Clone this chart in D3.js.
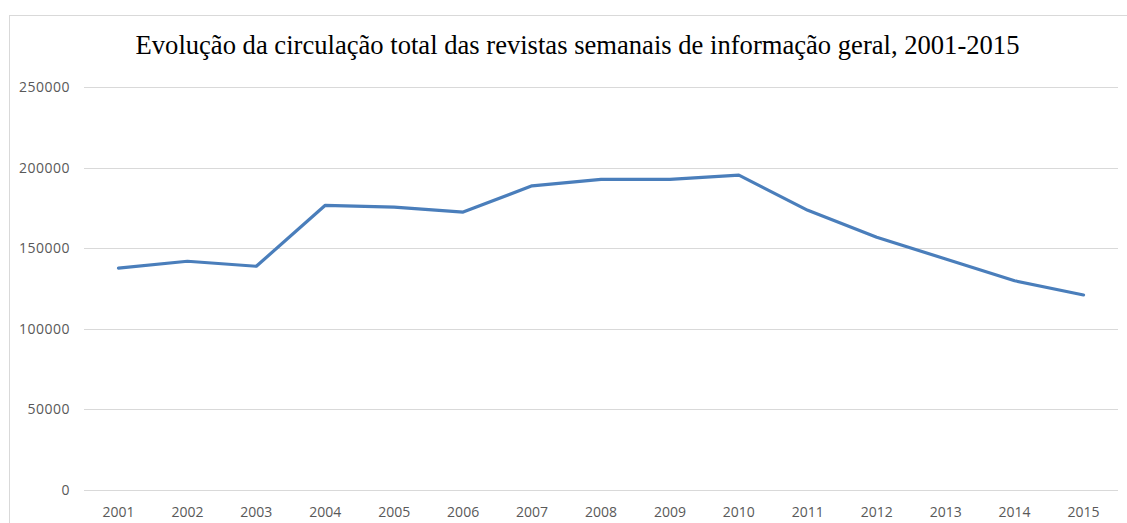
<!DOCTYPE html>
<html>
<head>
<meta charset="utf-8">
<script src="https://cdn.jsdelivr.net/npm/d3@7"></script>
<style>
  body { margin: 0; background: #fff; }
</style>
</head>
<body>
<div id="chart"></div>
<script>
"use strict"

// data
var years = ["2001","2002","2003","2004","2005","2006","2007","2008","2009","2010","2011","2012","2013","2014","2015"];
var circulation = [137600, 141900, 138800, 176600, 175500, 172400, 188700, 192700, 192700, 195300, 173500, 156800, 143300, 129800, 121000];
var yTicks = [0, 50000, 100000, 150000, 200000, 250000];
var chartTitle = "Evolução da circulação total das revistas semanais de informação geral, 2001-2015";

var width = 1127,
    height = 523,
    margin = {top: 87, right: 9, bottom: 33, left: 84};

var svg = d3.select("#chart").append("svg")
    .attr("width", width)
    .attr("height", height);

// outer frame
svg.append("rect")
  .attr("x", 9.5)
  .attr("y", 15.5)
  .attr("width", width + 20)
  .attr("height", height + 20)
  .style("fill", "none")
  .style("stroke", "#d9d9d9")
  .style("stroke-width", "1px");

svg.append("text")
  .attr("x", 577.5)
  .attr("y", 54)
  .attr("text-anchor", "middle")
  .style("font-family", "'Liberation Serif', 'Times New Roman', serif")
  .style("font-size", "26.6px")
  .style("fill", "#000")
  .text(chartTitle);

var x = d3.scaleBand()
    .domain(years)
    .range([margin.left, width - margin.right])
    .padding(0);

var y = d3.scaleLinear()
    .domain([0, 250000])
    .range([height - margin.bottom, margin.top]);

// grid lines
svg.append("g")
  .selectAll("line")
  .data(yTicks)
  .enter().append("line")
    .attr("x1", margin.left)
    .attr("x2", width - margin.right)
    .attr("y1", function(d){ return Math.round(y(d)) + 0.5; })
    .attr("y2", function(d){ return Math.round(y(d)) + 0.5; })
    .style("stroke", "#d9d9d9")
    .style("stroke-width", "1.2px");

var labelFont = "'Open Sans', 'Noto Sans', sans-serif";

// y axis labels
var yAxis = d3.axisLeft(y).tickValues(yTicks).tickSize(0).tickPadding(0).tickFormat(d3.format("d"));
var yg = svg.append("g")
  .attr("transform", "translate(70,0)")
  .call(yAxis);
yg.select(".domain").remove();
yg.selectAll("text")
  .style("font-family", labelFont)
  .style("font-size", "14px")
  .style("letter-spacing", "0.5px")
  .style("fill", "#595959");

// x axis labels
var xAxis = d3.axisBottom(x).tickSize(0).tickPadding(0);
var xg = svg.append("g")
  .attr("transform", "translate(0,507)")
  .call(xAxis);
xg.select(".domain").remove();
xg.selectAll("text")
  .style("font-family", labelFont)
  .style("font-size", "14px")
  .style("fill", "#595959");

// series line
var line = d3.line()
    .x(function(d, i){ return x(years[i]) + x.bandwidth() / 2; })
    .y(function(d){ return y(d); });

svg.append("path")
  .datum(circulation)
  .attr("d", line)
  .style("fill", "none")
  .style("stroke", "#4a7ebb")
  .style("stroke-width", "3.2px")
  .style("stroke-linejoin", "round")
  .style("stroke-linecap", "round");
</script>
</body>
</html>
